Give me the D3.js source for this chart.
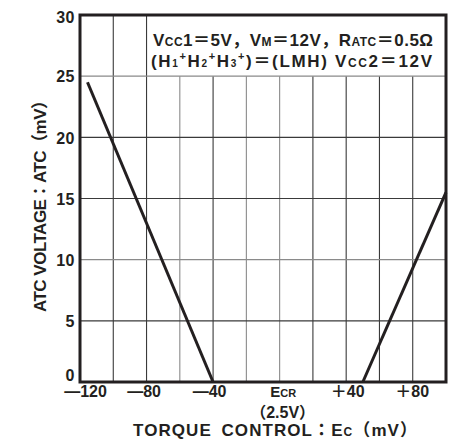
<!DOCTYPE html>
<html><head><meta charset="utf-8">
<script src="https://cdn.jsdelivr.net/npm/d3@7"></script>
<style>body{margin:0;background:#fff}svg{display:block}text{font-family:"Liberation Sans",Arial,"Noto Sans CJK JP",sans-serif;fill:#231f20}</style>
</head><body>
<svg id="c" width="458" height="442"></svg>
<script>
const xTicks = [-120, -80, -40, 0, 40, 80];
const xTickLabels = ["\u2014120", "\u201480", "\u201440", "ECR", "\uff0b40", "\uff0b80"];
const xGrid = [-100, -80, -60, -40, -20, 0, 20, 40, 60, 80];
const xGridLight = [-60, -20, 0];
const yTicks = [0, 5, 10, 15, 20, 25, 30];
const yGrid = [5, 10, 15, 20, 25];
const yGridLight = [10, 25];
const leftLineX = [-115.5, -40];
const leftLineY = [24.5, 0];
const rightLineX = [50, 100];
const rightLineY = [0, 15.5];

const svg = d3.select("#c");
const x = d3.scaleLinear().domain([-120, 100]).range([80, 446]);
const y = d3.scaleLinear().domain([0, 30]).range([382, 15]);
const ink = "#231f20";
const FONT = "'Liberation Sans',Arial,'Noto Sans CJK JP',sans-serif";

// grid
xGrid.forEach(v => {
  const top = v <= -80 ? 30 : 25;
  svg.append("line").attr("x1", x(v)).attr("x2", x(v)).attr("y1", y(top)).attr("y2", y(0))
    .attr("stroke", xGridLight.includes(v) ? "#8a8a8a" : "#3a3a3a").attr("stroke-width", 1.1);
});
yGrid.forEach(v => {
  svg.append("line").attr("x1", x(-120)).attr("x2", x(100)).attr("y1", y(v)).attr("y2", y(v))
    .attr("stroke", yGridLight.includes(v) ? "#8a8a8a" : "#3a3a3a").attr("stroke-width", 1.1);
});

// data lines
const line = d3.line().x(d => x(d[0])).y(d => y(d[1]));
svg.append("path").datum(leftLineX.map((v, i) => [v, leftLineY[i]])).attr("d", line)
  .attr("fill", "none").attr("stroke", ink).attr("stroke-width", 3);
svg.append("path").datum(rightLineX.map((v, i) => [v, rightLineY[i]])).attr("d", line)
  .attr("fill", "none").attr("stroke", ink).attr("stroke-width", 3);

// frame
svg.append("rect").attr("x", x(-120)).attr("y", y(30)).attr("width", x(100) - x(-120)).attr("height", y(0) - y(30))
  .attr("fill", "none").attr("stroke", ink).attr("stroke-width", 3);

// y axis labels
svg.append("g").attr("transform", `translate(${x(-120) - 5},0)`)
  .call(d3.axisLeft(y).tickValues(yTicks).tickSize(0).tickPadding(0))
  .call(g => g.select(".domain").remove())
  .call(g => g.selectAll("text").attr("font-size", 16).attr("font-weight", "bold").attr("fill", ink)
    .attr("font-family", FONT).attr("letter-spacing", 0.5)
    .attr("dy", d => d === 0 ? "-0.1em" : (d === 30 ? "0.45em" : "0.36em")));

// x axis labels
const xdx = {"-120": 5, "-80": -3, "-40": -4, "0": 3, "40": 1, "80": -1};
svg.append("g").attr("transform", `translate(0,${y(0) + 3})`)
  .call(d3.axisBottom(x).tickValues(xTicks).tickSize(0).tickPadding(0).tickFormat((d, i) => xTickLabels[i]))
  .call(g => g.select(".domain").remove())
  .call(g => g.selectAll("text").attr("font-size", 16).attr("font-weight", "bold").attr("fill", ink)
    .attr("font-family", FONT)
    .attr("dy", "0.75em")
    .attr("dx", d => xdx[String(d)])
    .each(function(d) {
      if (d === 0) {
        const t = d3.select(this).text("");
        t.append("tspan").text("E").attr("font-size", 15);
        t.append("tspan").text("CR").attr("font-size", 11);
      }
    }));

svg.append("text").attr("x", x(0) + 3).attr("y", 418).attr("text-anchor", "middle")
  .attr("font-size", 16).attr("font-weight", "bold").text("\uff082.5V\uff09");

// x title
const xt = svg.append("text").attr("x", 133).attr("y", 436)
  .attr("font-size", 17).attr("font-weight", "bold")
  .attr("textLength", 284).attr("lengthAdjust", "spacing");
xt.append("tspan").text("TORQUE\u2002CONTROL\uff1aE");
xt.append("tspan").text("C").attr("font-size", 12);
xt.append("tspan").text("\uff08mV\uff09");

// y title
svg.append("text").attr("transform", `translate(46,312) rotate(-90)`)
  .attr("font-size", 17).attr("font-weight", "bold")
  .attr("textLength", 220).attr("lengthAdjust", "spacing")
  .text("ATC VOLTAGE\uff1aATC\uff08mV\uff09");

// annotation
const a1 = svg.append("text").attr("x", 153).attr("y", 46).attr("font-size", 17).attr("font-weight", "bold")
  .attr("textLength", 280).attr("lengthAdjust", "spacing");
a1.append("tspan").text("V");
a1.append("tspan").text("CC").attr("font-size", 12);
a1.append("tspan").text("1\uff1d5V\uff0cV");
a1.append("tspan").text("M").attr("font-size", 12);
a1.append("tspan").text("\uff1d12V\uff0cR");
a1.append("tspan").text("ATC").attr("font-size", 12);
a1.append("tspan").text("\uff1d0.5\u03a9");

const a2 = svg.append("text").attr("x", 151).attr("y", 67).attr("font-size", 17).attr("font-weight", "bold")
  .attr("textLength", 281).attr("lengthAdjust", "spacing");
a2.append("tspan").text("(H");
a2.append("tspan").text("1").attr("font-size", 10);
a2.append("tspan").text("+").attr("font-size", 11).attr("dy", -7);
a2.append("tspan").text("H").attr("dy", 7);
a2.append("tspan").text("2").attr("font-size", 10);
a2.append("tspan").text("+").attr("font-size", 11).attr("dy", -7);
a2.append("tspan").text("H").attr("dy", 7);
a2.append("tspan").text("3").attr("font-size", 10);
a2.append("tspan").text("+").attr("font-size", 11).attr("dy", -7);
a2.append("tspan").text(")\uff1d(LMH) V").attr("dy", 7);
a2.append("tspan").text("CC").attr("font-size", 12);
a2.append("tspan").text("2\uff1d12V");
</script>
</body></html>
